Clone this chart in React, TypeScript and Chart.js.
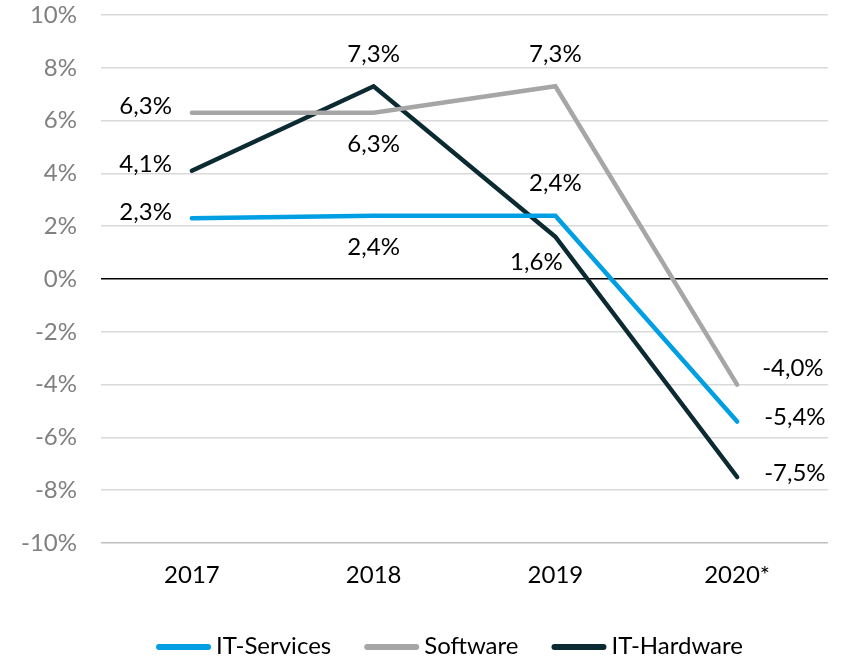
import React, { useEffect, useRef } from 'react';
import { Chart, registerables } from 'chart.js';

Chart.register(...registerables);

const YEARS = ['2017', '2018', '2019', '2020*'];
const IT_SERVICES = [2.3, 2.4, 2.4, -5.4];
const SOFTWARE = [6.3, 6.3, 7.3, -4.0];
const IT_HARDWARE = [4.1, 7.3, 1.6, -7.5];
const Y_MIN = -10;
const Y_MAX = 10;
const Y_STEP = 2;

const SERVICES_LABEL_POS = ['left', 'below', 'above', 'right'];
const SOFTWARE_LABEL_POS = ['left', 'below', 'above', 'aboveRight'];
const HARDWARE_LABEL_POS = ['left', 'above', 'belowLeft', 'right'];

const FONT = 'Lato, "Open Sans", sans-serif';

const PLACE: Record<string, { align: CanvasTextAlign; dx: number; dy: number }> = {
  left: { align: 'right', dx: -20, dy: -6 },
  right: { align: 'left', dx: 27, dy: -4 },
  above: { align: 'center', dx: 0, dy: -32 },
  below: { align: 'center', dx: 0, dy: 32 },
  belowLeft: { align: 'center', dx: -19, dy: 26 },
  aboveRight: { align: 'left', dx: 25, dy: -16 },
};

const LEGEND_DX = -15;
const LEGEND_BOTTOM = 12;
const LEG_LINE = 55;
const LEG_GAP = 5;
const LEG_SPACING = 33;

const fmt = (v: number) => v.toFixed(1).replace('.', ',') + '%';

const pointLabels = {
  id: 'pointLabels',
  afterDatasetsDraw(chart: any) {
    const ctx = chart.ctx;
    ctx.save();
    ctx.font = `24px ${FONT}`;
    ctx.fillStyle = '#000000';
    ctx.textBaseline = 'middle';
    chart.data.datasets.forEach((ds: any, i: number) => {
      const meta = chart.getDatasetMeta(i);
      meta.data.forEach((pt: any, j: number) => {
        const p = PLACE[ds.labelPos[j]];
        ctx.textAlign = p.align;
        ctx.fillText(fmt(ds.data[j]), pt.x + p.dx, pt.y + p.dy);
      });
    });
    ctx.restore();
  },
};

const lineLegend = {
  id: 'lineLegend',
  afterDraw(chart: any) {
    const ctx = chart.ctx;
    const area = chart.chartArea;
    ctx.save();
    ctx.font = `24px ${FONT}`;
    ctx.textBaseline = 'middle';
    ctx.textAlign = 'left';
    const items = chart.data.datasets.map((ds: any) => ({
      label: ds.label,
      color: ds.borderColor,
      w: ctx.measureText(ds.label).width,
    }));
    const total =
      items.reduce((s: number, it: any) => s + LEG_LINE + LEG_GAP + it.w, 0) +
      LEG_SPACING * (items.length - 1);
    let x = (area.left + area.right) / 2 + LEGEND_DX - total / 2;
    const y = chart.height - LEGEND_BOTTOM;
    items.forEach((it: any) => {
      ctx.strokeStyle = it.color;
      ctx.lineWidth = 6;
      ctx.lineCap = 'round';
      ctx.beginPath();
      ctx.moveTo(x + 3, y + 1);
      ctx.lineTo(x + LEG_LINE - 3, y + 1);
      ctx.stroke();
      x += LEG_LINE + LEG_GAP;
      ctx.fillStyle = '#000000';
      ctx.fillText(it.label, x, y);
      x += it.w + LEG_SPACING;
    });
    ctx.restore();
  },
};

export default function App() {
  const ref = useRef<HTMLCanvasElement | null>(null);

  useEffect(() => {
    if (!ref.current) return;
    const mk = (label: string, data: number[], color: string, pos: string[]) => ({
      label,
      data,
      borderColor: color,
      backgroundColor: color,
      borderWidth: 4.5,
      borderCapStyle: 'round',
      borderJoinStyle: 'miter',
      pointRadius: 0,
      pointHoverRadius: 0,
      tension: 0,
      fill: false,
      labelPos: pos,
    });
    const chart = new Chart(ref.current, {
      type: 'line',
      data: {
        labels: YEARS,
        datasets: [
          mk('IT-Services', IT_SERVICES, '#009FE3', SERVICES_LABEL_POS),
          mk('Software', SOFTWARE, '#A6A6A6', SOFTWARE_LABEL_POS),
          mk('IT-Hardware', IT_HARDWARE, '#0B2A32', HARDWARE_LABEL_POS),
        ] as any,
      },
      options: {
        animation: false,
        responsive: true,
        maintainAspectRatio: false,
        layout: { padding: { top: 0, right: 19, bottom: 0, left: 0 } },
        scales: {
          x: {
            offset: true,
            grid: { display: false, drawTicks: false },
            border: { display: false },
            ticks: { color: '#000000', font: { family: FONT, size: 24 }, padding: 18 },
            afterFit: (s: any) => { s.height = 115; },
          },
          y: {
            min: Y_MIN,
            max: Y_MAX,
            ticks: {
              stepSize: Y_STEP,
              color: '#808080',
              padding: 24,
              font: { family: FONT, size: 24 },
              callback: (v: any) => `${v}%`,
            },
            grid: {
              drawTicks: false,
              lineWidth: 1.5,
              color: (c: any) =>
                c.tick && c.tick.value === 0
                  ? '#000000'
                  : c.tick && c.tick.value === Y_MIN
                  ? '#BFBFBF'
                  : '#D9D9D9',
            },
            border: { display: false },
            afterFit: (s: any) => {
              s.width = 101;
              s.paddingTop = 15;
              s.paddingBottom = 0;
            },
          },
        },
        plugins: {
          legend: { display: false },
          tooltip: { enabled: false },
        },
      } as any,
      plugins: [pointLabels, lineLegend],
    });
    return () => chart.destroy();
  }, []);

  return (
    <div style={{ position: 'fixed', left: 0, top: 0, width: 847, height: 658 }}>
      <canvas ref={ref} />
    </div>
  );
}
